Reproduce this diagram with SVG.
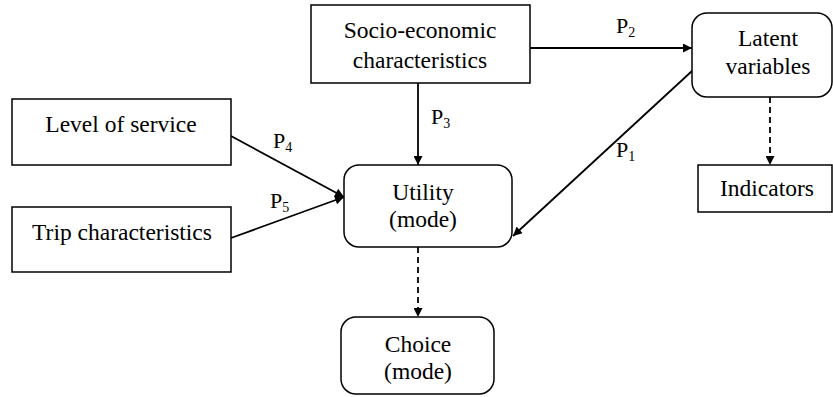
<svg xmlns="http://www.w3.org/2000/svg" width="833" height="397" viewBox="0 0 833 397">
<style>
.box{fill:#fff;stroke:#000;stroke-width:1.5}
.c{stroke:#000;stroke-width:1.8;fill:none}
.d{stroke-dasharray:6,4}
</style>
<defs>
<marker id="ah" viewBox="0 0 10 10" refX="10" refY="5" markerWidth="10" markerHeight="9" markerUnits="userSpaceOnUse" orient="auto">
<path d="M0,0 L10,5 L0,10 z" fill="#000"/>
</marker>
</defs>
<g id="connectors" font-family="Liberation Serif, Times New Roman, serif" font-size="22" fill="#000">
<line class="c" x1="530" y1="48" x2="692" y2="48" marker-end="url(#ah)"/>
<line class="c" x1="692" y1="71" x2="513" y2="236" marker-end="url(#ah)"/>
<line class="c" x1="418" y1="83" x2="418" y2="165" marker-end="url(#ah)"/>
<line class="c" x1="231" y1="136" x2="344" y2="197" marker-end="url(#ah)"/>
<line class="c" x1="231" y1="238" x2="344" y2="197" marker-end="url(#ah)"/>
<line class="c d" x1="770" y1="97" x2="770" y2="165" marker-end="url(#ah)"/>
<line class="c d" x1="418" y1="247" x2="418" y2="317" marker-end="url(#ah)"/>
<text x="616" y="33">P<tspan font-size="14" dy="4">2</tspan></text>
<text x="616" y="157">P<tspan font-size="14" dy="4">1</tspan></text>
<text x="431" y="124">P<tspan font-size="14" dy="4">3</tspan></text>
<text x="273" y="148">P<tspan font-size="14" dy="4">4</tspan></text>
<text x="270" y="208">P<tspan font-size="14" dy="4">5</tspan></text>
</g>
<g font-family="Liberation Serif, Times New Roman, serif" font-size="23.5" text-anchor="middle" fill="#000">
<g id="socio">
<rect class="box" x="311" y="5" width="219" height="78"/>
<text x="420" y="38">Socio-economic</text>
<text x="420" y="68">characteristics</text>
</g>
<g id="latent">
<rect class="box" x="692" y="13" width="140" height="84" rx="15"/>
<text x="768" y="46">Latent</text>
<text x="768" y="74">variables</text>
</g>
<g id="indicators">
<rect class="box" x="698" y="165" width="134" height="47"/>
<text x="767" y="196">Indicators</text>
</g>
<g id="los">
<rect class="box" x="12" y="99" width="219" height="66"/>
<text x="121" y="132">Level of service</text>
</g>
<g id="trip">
<rect class="box" x="12" y="207" width="219" height="65"/>
<text x="122" y="240">Trip characteristics</text>
</g>
<g id="utility">
<rect class="box" x="344" y="165" width="168" height="82" rx="15"/>
<text x="423" y="200">Utility</text>
<text x="423" y="227">(mode)</text>
</g>
<g id="choice">
<rect class="box" x="341" y="317" width="153" height="77" rx="15"/>
<text x="418" y="352">Choice</text>
<text x="418" y="379">(mode)</text>
</g>
</g>
</svg>
